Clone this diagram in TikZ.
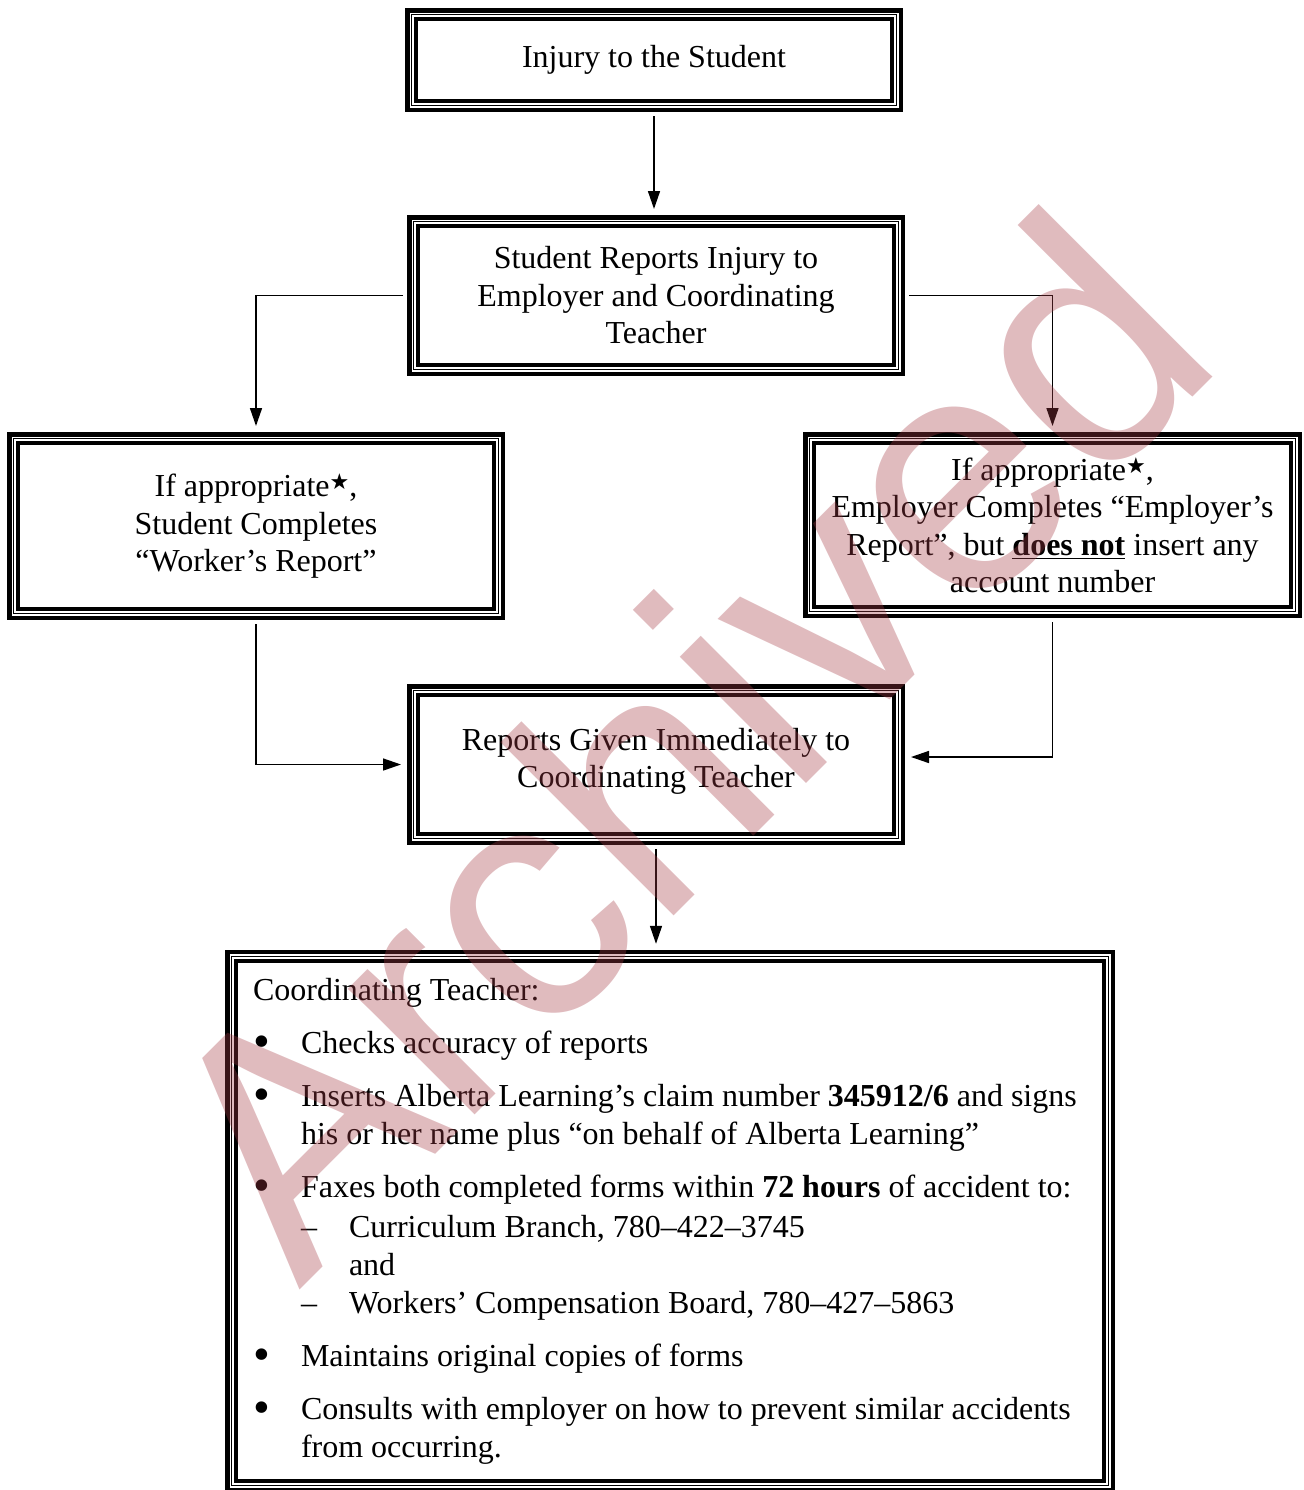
\documentclass[tikz,border=0pt]{standalone}
\usepackage{fontspec}
\setmainfont{Liberation Serif}
\newfontfamily\wmfont{Liberation Sans}
\newfontfamily\starfont{DejaVu Sans}
\usetikzlibrary{arrows.meta}
\definecolor{wmark}{RGB}{165,60,70}
\newcommand{\apstar}{\raisebox{3.5pt}{\starfont\fontsize{11}{11}\selectfont ★}}
\newcommand{\dutybullet}{\makebox[24pt][l]{\raisebox{-2.2pt}{\scalebox{1.5}{\textbullet}}}}

\begin{document}
\begin{tikzpicture}[x=0.5pt, y=-0.5pt, font=\fontsize{16}{18.75}\selectfont,
    >={Triangle[length=9pt,width=6pt]}, line width=0.75pt,
    tribox/.style={draw, line width=0.5pt, align=center, outer sep=3.35pt,
        preaction={draw, line width=6.7pt},
        preaction={draw, white, line width=2.2pt}},
    link/.style={->, shorten <=2pt, shorten >=3pt}]
    \useasboundingbox (0,0) rectangle (1304,1490);

    % Flow boxes
    \node[tribox, minimum width=242.3pt, minimum height=45.3pt] (injury) at (654,60) {\raisebox{-2.5pt}{Injury to the Student}};
    \node[tribox, minimum width=242.3pt, minimum height=73.8pt] (told) at (656,295.5) {Student Reports Injury to\\Employer and Coordinating\\Teacher};
    \node[tribox, minimum width=242.3pt, minimum height=87.3pt] (worker) at (256,526) {If appropriate\apstar,\\Student Completes\\“Worker’s Report”};
    \node[tribox, minimum width=242.8pt, minimum height=86.3pt] (employer) at (1052.5,525) {If appropriate\apstar,\\Employer Completes “Employer’s\\Report”, but \underline{\textbf{does not}} insert any\\account number};
    \node[tribox, minimum width=242.3pt, minimum height=73.8pt] (given) at (656,764.5) {Reports Given Immediately to\\Coordinating Teacher\\[-12pt]\mbox{}};

    % Duties of the coordinating teacher
    \node[tribox, minimum width=438.3pt, minimum height=264.5pt, text width=417pt, align=flush left, font=\fontsize{16}{19}\selectfont] (teacher) at (670,1221) {Coordinating Teacher:\\[7.5pt]
        \dutybullet Checks accuracy of reports\\[7.5pt]
        \mbox{\dutybullet Inserts Alberta Learning’s claim number \textbf{345912/6} and signs}\\
        \hspace*{24pt}his or her name plus “on behalf of Alberta Learning”\\[7.5pt]
        \mbox{\dutybullet Faxes both completed forms within \textbf{72 hours} of accident to:}\\[1pt]
        \hspace*{24pt}\makebox[24pt][l]{–}Curriculum Branch, 780–422–3745\\
        \hspace*{48pt}and\\
        \hspace*{24pt}\makebox[24pt][l]{–}Workers’ Compensation Board, 780–427–5863\\[7.5pt]
        \dutybullet Maintains original copies of forms\\[7.5pt]
        \mbox{\dutybullet Consults with employer on how to prevent similar accidents}\\
        \hspace*{24pt}from occurring.};

    % Connectors
    \draw[link] (injury.south) -- (injury.south |- told.north);
    \draw[link] (told.west) -| (worker.north);
    \draw[link] (told.east) -| (employer.north);
    \draw[link] (worker.south) |- (given.west);
    \draw[link] (employer.south) |- ([yshift=3.75pt]given.east);
    \draw[link] (given.south) -- (given.south |- teacher.north);

    % Archive stamp
    \node[rotate=45, anchor=base, inner sep=0pt, text=wmark, opacity=0.35, font=\wmfont\fontsize{169}{169}\selectfont] (stamp) at (764,826) {Archived};
\end{tikzpicture}
\end{document}
